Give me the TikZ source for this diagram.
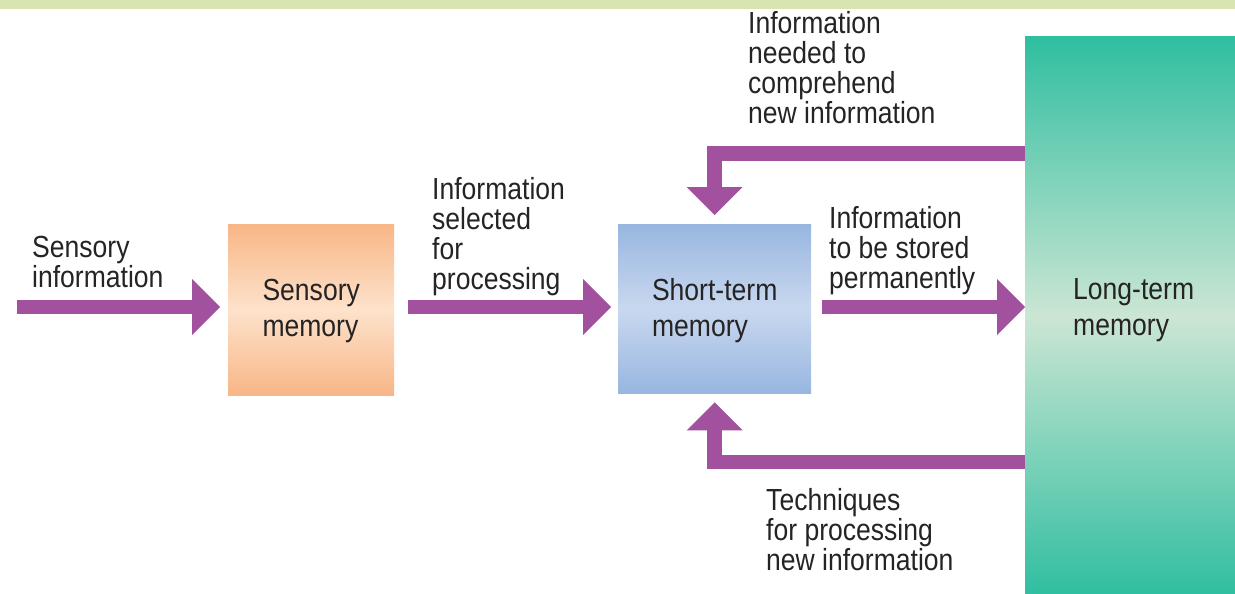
\documentclass[tikz,border=0pt]{standalone}
\usepackage{fontspec}
\setmainfont{Liberation Sans}[FakeStretch=0.87]
\usetikzlibrary{arrows.meta}
\definecolor{band}{HTML}{D9E5B1}
\definecolor{ink}{HTML}{262324}
\definecolor{flowc}{HTML}{A2519F}
\definecolor{orgA}{HTML}{F8B686}
\definecolor{orgB}{HTML}{FDE2CB}
\definecolor{bluA}{HTML}{98B6E0}
\definecolor{bluB}{HTML}{C9D8EF}
\definecolor{tealA}{HTML}{2FBEA0}
\definecolor{tealB}{HTML}{CBE6D3}
\begin{document}
\begin{tikzpicture}[x=1pt,y=-1pt,
  txt/.style={font=\fontsize{30.5}{30}\selectfont, text=ink, align=left, inner sep=0pt, anchor=north west},
  boxtxt/.style={font=\fontsize{30.5}{36}\selectfont, text=ink, align=left, text depth=3pt},
  membox/.style={draw=none, inner sep=0pt, anchor=north west},
  flow/.style={draw=flowc, line width=14.5pt, -{Triangle[length=28pt,width=56pt,line width=0pt]}}
]
\useasboundingbox (0,0) rectangle (1235,594);
\fill[band] (0,0) rectangle (1235,9);

% memory stores
\node[membox, boxtxt, minimum width=166pt, minimum height=171pt,
  top color=orgA, bottom color=orgA, middle color=orgB] (smem) at (228,224) {Sensory\\memory};
\node[membox, boxtxt, minimum width=193pt, minimum height=169pt,
  top color=bluA, bottom color=bluA, middle color=bluB] (stm) at (618,224) {Short-term\\memory};
\node[membox, minimum width=220pt, minimum height=560pt,
  top color=tealA, bottom color=tealA, middle color=tealB] (ltm) at (1025,36) {};
\node[txt, font=\fontsize{30.5}{36}\selectfont] (ltmtxt) at (1073,278) {Long-term\\memory};

% labels
\node[txt] (l1) at (32,236) {Sensory\\information};
\node[txt] (l2) at (432,177) {Information\\selected\\for\\processing};
\node[txt] (l3) at (829,206) {Information\\to be stored\\permanently};
\node[txt] (l4) at (748,11) {Information\\needed to\\comprehend\\new information};
\node[txt] (l5) at (766,488) {Techniques\\for processing\\new information};

% connectors
\coordinate (src) at (17,307);
\coordinate (upy) at (0,153.5);
\coordinate (lowy) at (0,462);
\draw[flow, shorten >=8pt] (src) -- (src -| smem.west);
\draw[flow, shorten <=14pt, shorten >=7pt] (smem.east |- src) -- (stm.west |- src);
\draw[flow, shorten <=11pt] (stm.east |- src) -- (ltm.west |- src);
\draw[flow, shorten >=9pt] (ltm.west |- upy) -| (stm.north);
\draw[flow, shorten >=9pt] (ltm.west |- lowy) -| (stm.south);
\end{tikzpicture}
\end{document}
